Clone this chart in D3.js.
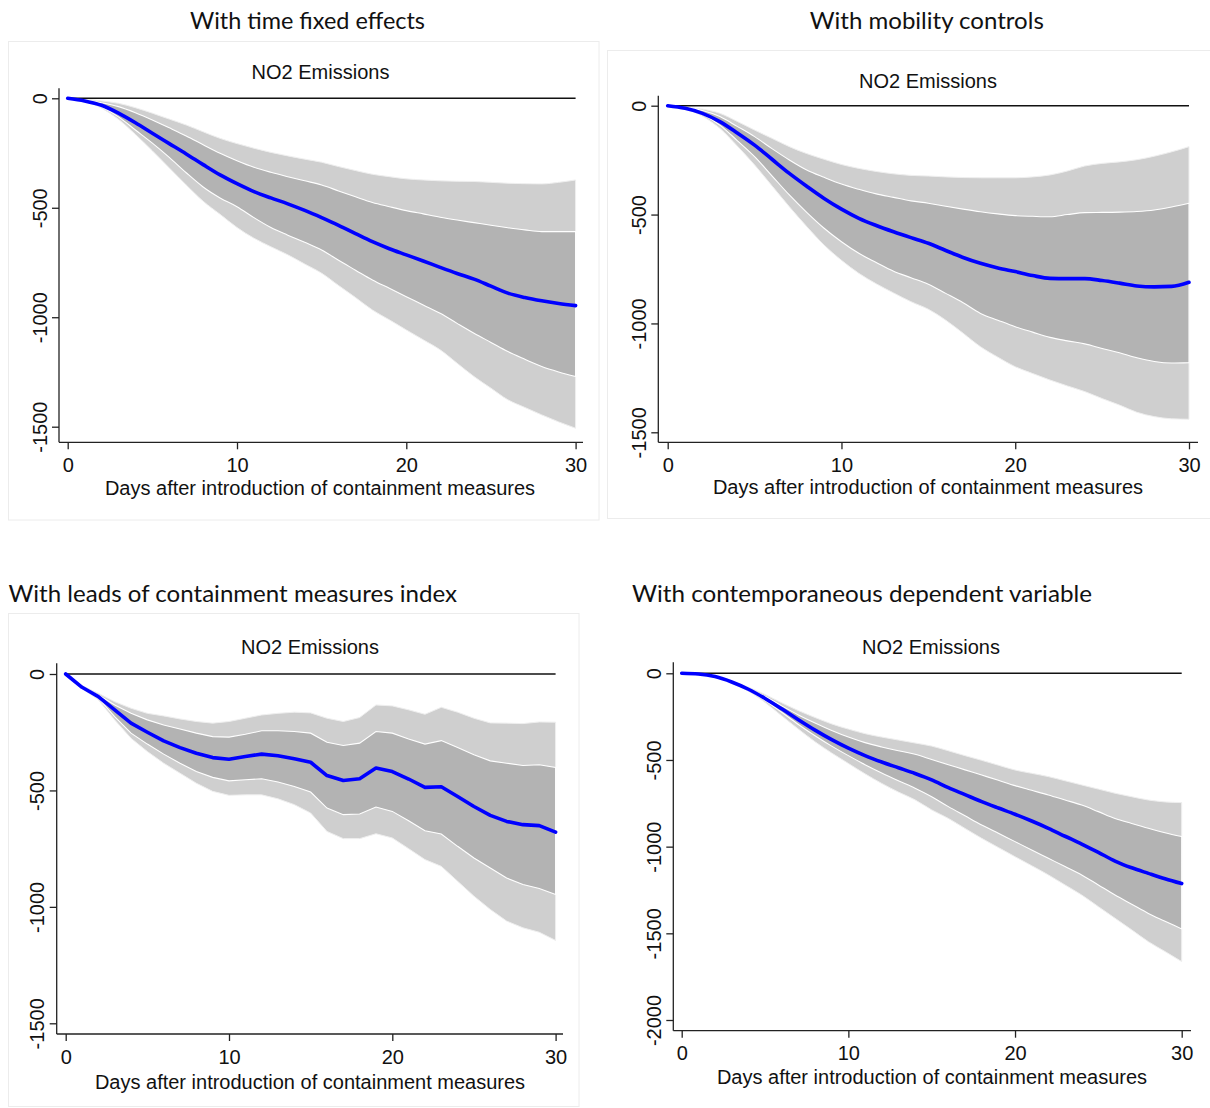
<!DOCTYPE html>
<html><head><meta charset="utf-8">
<script src="https://cdn.jsdelivr.net/npm/d3@7"></script>
<style>body{margin:0;background:#fff}</style>
</head><body>
<svg id="c" width="1210" height="1108"></svg>
<script>
// ---------- DATA ----------
const days = [0,1,2,3,4,5,6,7,8,9,10,11,12,13,14,15,16,17,18,19,20,21,22,23,24,25,26,27,28,29,30];
const xTicks = [0,10,20,30];
const titles = ["With time fixed effects","With mobility controls","With leads of containment measures index","With contemporaneous dependent variable"];
const subTitle = "NO2 Emissions";
const xAxisTitle = "Days after introduction of containment measures";
const yTicksA = [0,-500,-1000,-1500];
const yTicksB = [0,-500,-1000,-1500,-2000];

// Panel 1: time fixed effects
const p1Est = [0,-12,-32,-68,-112,-160,-207,-254,-303,-350,-390,-426,-455,-482,-512,-545,-580,-618,-655,-687,-715,-743,-772,-800,-826,-858,-890,-910,-925,-937,-947];
const p1Up90 = [0,-4,-12,-23,-43,-68,-95,-122,-153,-183,-207,-228,-247,-263,-278,-292,-312,-330,-347,-358,-368,-373,-377,-379,-380,-384,-388,-390,-391,-384,-373];
const p1Up68 = [0,-8,-20,-38,-66,-99,-135,-172,-212,-251,-285,-315,-338,-358,-377,-396,-423,-450,-476,-495,-513,-528,-543,-556,-568,-580,-591,-601,-609,-609,-609];
const p1Lo68 = [0,-10,-40,-85,-145,-205,-270,-340,-405,-455,-495,-545,-590,-625,-658,-693,-740,-785,-830,-868,-906,-944,-982,-1028,-1073,-1115,-1157,-1192,-1225,-1250,-1271];
const p1Lo90 = [0,-12,-45,-96,-165,-240,-318,-396,-470,-530,-590,-639,-678,-715,-757,-799,-855,-910,-967,-1012,-1058,-1103,-1149,-1210,-1271,-1324,-1377,-1412,-1446,-1478,-1507];

// Panel 2: mobility controls
const p2Est = [0,-12,-35,-73,-125,-181,-246,-311,-370,-426,-475,-517,-550,-579,-606,-632,-665,-697,-724,-745,-762,-780,-793,-794,-794,-803,-815,-828,-832,-830,-811];
const p2Up90 = [0,-6,-16,-35,-72,-112,-150,-188,-220,-246,-270,-288,-302,-313,-320,-323,-327,-330,-331,-331,-331,-327,-318,-300,-277,-265,-258,-248,-232,-212,-188];
const p2Up68 = [0,-8,-22,-50,-95,-142,-197,-249,-295,-329,-360,-384,-405,-421,-437,-448,-462,-475,-487,-497,-505,-508,-510,-500,-491,-490,-489,-486,-479,-465,-448];
const p2Lo68 = [0,-12,-40,-89,-160,-234,-322,-410,-490,-563,-625,-678,-720,-760,-790,-820,-862,-905,-954,-985,-1015,-1040,-1064,-1080,-1094,-1115,-1135,-1158,-1175,-1182,-1180];
const p2Lo90 = [0,-14,-48,-104,-185,-272,-368,-464,-555,-640,-710,-770,-818,-860,-900,-935,-985,-1045,-1107,-1155,-1199,-1230,-1260,-1287,-1313,-1345,-1375,-1408,-1428,-1438,-1440];

// Panel 3: leads of containment measures index
const p3Est = [0,-57,-97,-154,-211,-250,-287,-316,-340,-359,-366,-354,-344,-351,-364,-379,-436,-457,-450,-404,-419,-451,-487,-484,-526,-569,-607,-633,-647,-651,-679];
const p3Up90 = [0,-50,-83,-119,-147,-169,-180,-193,-204,-211,-204,-190,-176,-169,-164,-167,-190,-204,-187,-133,-137,-154,-173,-143,-164,-190,-210,-211,-213,-206,-207];
const p3Up68 = [0,-53,-90,-133,-169,-197,-219,-236,-254,-269,-271,-259,-244,-244,-247,-254,-293,-307,-297,-247,-254,-279,-301,-286,-316,-347,-373,-383,-393,-390,-401];
const p3Lo68 = [0,-61,-104,-183,-254,-301,-344,-383,-419,-444,-459,-454,-450,-464,-483,-507,-576,-604,-601,-571,-590,-630,-673,-687,-740,-790,-833,-876,-904,-921,-947];
const p3Lo90 = [0,-62,-111,-197,-276,-333,-383,-426,-469,-504,-521,-519,-519,-536,-561,-597,-676,-707,-707,-686,-704,-750,-797,-826,-890,-954,-1011,-1061,-1090,-1109,-1144];

// Panel 4: contemporaneous dependent variable
const p4Est = [0,-4,-19,-50,-92,-145,-205,-268,-328,-383,-432,-475,-512,-545,-578,-615,-660,-700,-740,-777,-813,-852,-894,-940,-985,-1033,-1083,-1122,-1154,-1185,-1213];
const p4Up90 = [0,-3,-17,-46,-80,-122,-170,-215,-255,-292,-322,-348,-368,-385,-402,-420,-447,-475,-502,-530,-558,-577,-596,-620,-644,-668,-692,-712,-731,-742,-746];
const p4Up68 = [0,-4,-18,-48,-86,-133,-188,-240,-287,-330,-368,-400,-425,-447,-467,-497,-527,-557,-587,-617,-648,-675,-702,-731,-760,-798,-837,-866,-894,-920,-942];
const p4Lo68 = [0,-4,-20,-55,-98,-157,-225,-295,-360,-420,-475,-527,-575,-620,-663,-712,-769,-822,-875,-923,-971,-1019,-1067,-1115,-1163,-1221,-1279,-1332,-1385,-1430,-1475];
const p4Lo90 = [0,-5,-21,-58,-103,-168,-245,-322,-395,-460,-520,-580,-635,-685,-730,-788,-837,-895,-952,-1005,-1058,-1110,-1163,-1221,-1279,-1346,-1413,-1480,-1548,-1605,-1663];

// ---------- LAYOUT ----------
const panels = [
  {title:titles[0], tAnchor:"middle", tX:307.5, tY:28.7, tLen:235,
   est:p1Est, up90:p1Up90, up68:p1Up68, lo68:p1Lo68, lo90:p1Lo90, yTicks:yTicksA, curve:d3.curveMonotoneX,
   frame:[8.5,41.5,590.5,478.5], ax:59, x0:67.7, x30:575.6, y0:98.3, yMinPx:426.7, xAxisY:442.3, axTop:88.3, axRight:583,
   subX:320.5, subY:79, tickLabY:472, xTitleX:320, xTitleY:495},
  {title:titles[1], tAnchor:"middle", tX:926.8, tY:28.7, tLen:234,
   est:p2Est, up90:p2Up90, up68:p2Up68, lo68:p2Lo68, lo90:p2Lo90, yTicks:yTicksA, curve:d3.curveMonotoneX,
   frame:[607.5,50.5,605,468], ax:658.3, x0:667.7, x30:1189, y0:105.7, yMinPx:432.3, xAxisY:442.3, axTop:95.7, axRight:1198,
   subX:928, subY:88, tickLabY:472, xTitleX:928, xTitleY:494},
  {title:titles[2], tAnchor:"start", tX:8.5, tY:602, tLen:448.5,
   est:p3Est, up90:p3Up90, up68:p3Up68, lo68:p3Lo68, lo90:p3Lo90, yTicks:yTicksA, curve:d3.curveLinear,
   frame:[8.5,613.5,570.5,493], ax:56.7, x0:65.7, x30:555.6, y0:674, yMinPx:1023.3, xAxisY:1034, axTop:663.3, axRight:563,
   subX:310, subY:654, tickLabY:1064, xTitleX:310, xTitleY:1089},
  {title:titles[3], tAnchor:"start", tX:632, tY:602, tLen:460,
   est:p4Est, up90:p4Up90, up68:p4Up68, lo68:p4Lo68, lo90:p4Lo90, yTicks:yTicksB, curve:d3.curveMonotoneX,
   frame:null, ax:673.3, x0:681.7, x30:1181.7, y0:673.3, yMinPx:1020, xAxisY:1030.7, axTop:662.3, axRight:1191,
   subX:931, subY:654, tickLabY:1060, xTitleX:932, xTitleY:1084}
];

const svg = d3.select("#c");
const AX = "Liberation Sans, Arial, sans-serif";
const TF = "Lato, 'Open Sans', sans-serif";

panels.forEach(p => {
  const g = svg.append("g");
  if (p.frame) {
    g.append("rect").attr("x",p.frame[0]).attr("y",p.frame[1]).attr("width",p.frame[2]).attr("height",p.frame[3])
      .attr("fill","#fff").attr("stroke","#ececec").attr("stroke-width",1);
  }
  g.append("text").attr("x",p.tX).attr("y",p.tY).attr("text-anchor",p.tAnchor)
    .attr("font-family",TF).attr("font-size",23).attr("fill","#111")
    .attr("textLength",p.tLen).attr("lengthAdjust","spacingAndGlyphs").text(p.title);

  const yMin = p.yTicks[p.yTicks.length-1];
  const x = d3.scaleLinear().domain([0,30]).range([p.x0,p.x30]);
  const y = d3.scaleLinear().domain([yMin,0]).range([p.yMinPx,p.y0]);

  const rows = days.map((d,i)=>({d, est:p.est[i], u90:p.up90[i], u68:p.up68[i], l68:p.lo68[i], l90:p.lo90[i]}));

  const area90 = d3.area().curve(p.curve).x(r=>x(r.d)).y0(r=>y(r.l90)).y1(r=>y(r.u90));
  const area68 = d3.area().curve(p.curve).x(r=>x(r.d)).y0(r=>y(r.l68)).y1(r=>y(r.u68));
  g.append("path").datum(rows).attr("d",area90).attr("fill","#cfcfcf").attr("stroke","#efefef").attr("stroke-width",1);
  g.append("path").datum(rows).attr("d",area68).attr("fill","#b3b3b3").attr("stroke","#ffffff").attr("stroke-width",1.1);

  // zero reference line
  g.append("line").attr("x1",x(0)).attr("x2",x(30)).attr("y1",y(0)).attr("y2",y(0))
    .attr("stroke","#111").attr("stroke-width",1.5);

  // estimate line
  const line = d3.line().curve(p.curve).x(r=>x(r.d)).y(r=>y(r.est));
  g.append("path").datum(rows).attr("d",line).attr("fill","none").attr("stroke","#0000ff")
    .attr("stroke-width",3.6).attr("stroke-linejoin","round").attr("stroke-linecap","round");

  // Y axis
  const ya = g.append("g").attr("transform",`translate(${p.ax},0)`)
    .call(d3.axisLeft(y).tickValues(p.yTicks).tickSize(7).tickFormat(d3.format("d")));
  ya.select(".domain").remove();
  ya.selectAll(".tick line").attr("stroke","#222").attr("stroke-width",1.3);
  ya.selectAll(".tick text").attr("transform","rotate(-90)").attr("x",0).attr("y",-12.5).attr("dy",0)
    .attr("text-anchor","middle").attr("font-family",AX).attr("font-size",20).attr("fill","#111")
    .text(d=>d===0?"0":"-"+Math.abs(d));
  g.append("line").attr("x1",p.ax).attr("x2",p.ax).attr("y1",p.axTop).attr("y2",p.xAxisY)
    .attr("stroke","#222").attr("stroke-width",1.3);

  // X axis
  const xa = g.append("g").attr("transform",`translate(0,${p.xAxisY})`)
    .call(d3.axisBottom(x).tickValues(xTicks).tickSize(7).tickFormat(d3.format("d")));
  xa.select(".domain").remove();
  xa.selectAll(".tick line").attr("stroke","#222").attr("stroke-width",1.3);
  xa.selectAll(".tick text").attr("y",p.tickLabY-p.xAxisY).attr("dy",0)
    .attr("font-family",AX).attr("font-size",20).attr("fill","#111");
  g.append("line").attr("x1",p.ax).attr("x2",p.axRight).attr("y1",p.xAxisY).attr("y2",p.xAxisY)
    .attr("stroke","#222").attr("stroke-width",1.3);

  g.append("text").attr("x",p.subX).attr("y",p.subY).attr("text-anchor","middle")
    .attr("font-family",AX).attr("font-size",20).attr("fill","#111").text(subTitle);
  g.append("text").attr("x",p.xTitleX).attr("y",p.xTitleY).attr("text-anchor","middle")
    .attr("font-family",AX).attr("font-size",20).attr("fill","#111").text(xAxisTitle);
});
</script>
</body></html>
